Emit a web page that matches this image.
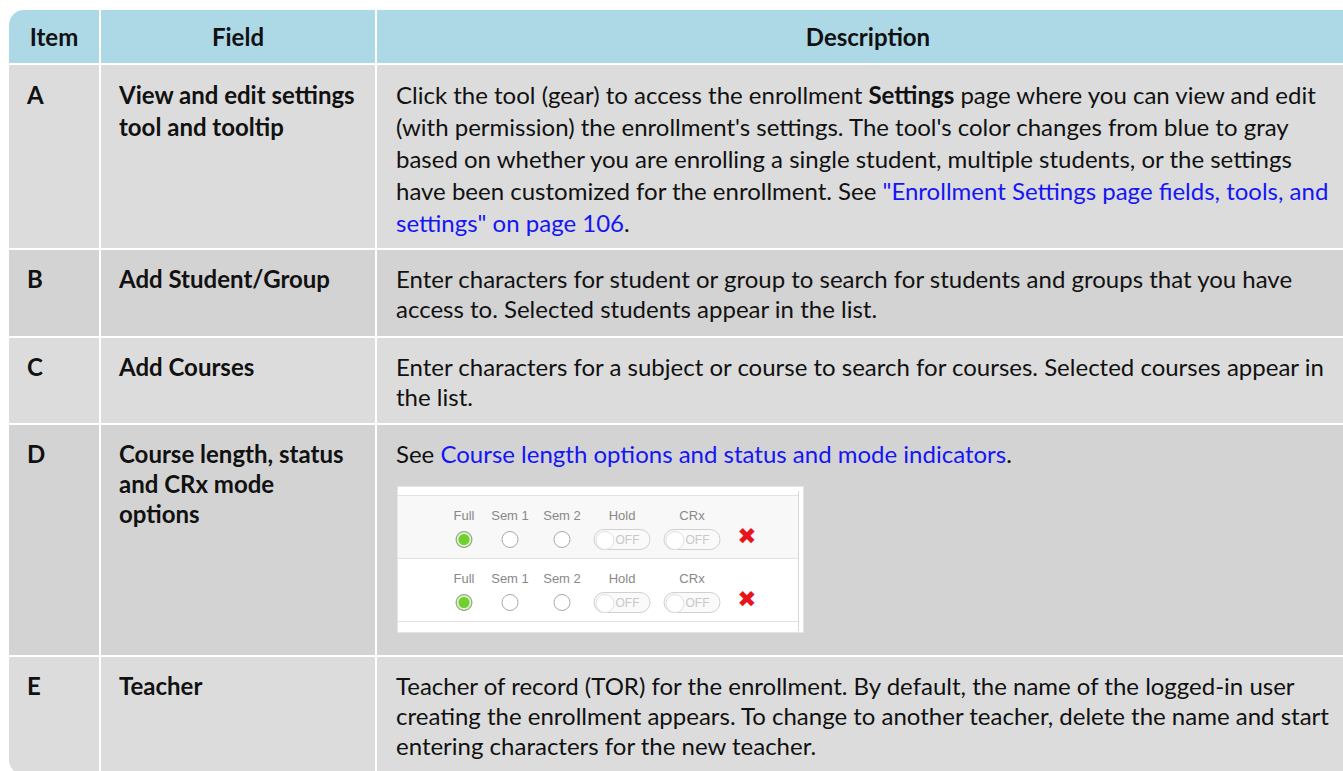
<!DOCTYPE html>
<html>
<head>
<meta charset="utf-8">
<script src="https://cdn.jsdelivr.net/npm/chart.js@4"></script>
<style>
html,body{margin:0;padding:0;background:#fff;overflow:hidden;}
body{width:1343px;height:771px;position:relative;font-family:Lato,"Open Sans",sans-serif;color:#111;}
#tbl{position:absolute;left:9px;top:10px;width:1350px;display:grid;
  grid-template-columns:90px 274px 982px;grid-template-rows:53px 183px 86px 85px 230px 118px;
  column-gap:2px;row-gap:2px;background:#fff;border-radius:15px;overflow:hidden;}
.c{box-sizing:border-box;padding:14px 18px 0 18px;font-size:24px;line-height:30px;white-space:nowrap;}
.h{background:#ADD8E6;font-weight:bold;text-align:center;padding:0;line-height:53px;}
.l{background:#DCDCDC;} .d{background:#D3D3D3;}
.b{font-weight:bold;}
.desc{padding-left:19px;}
.tall{line-height:32px;}
a{color:#1515f5;text-decoration:none;}
#mini{position:absolute;left:398px;top:487px;width:405px;height:145px;background:#fff;
  box-shadow:0 0 0 1px #e4e4e4;}
#mini .row{position:absolute;left:0;width:400px;height:62px;border-top:1px solid #e2e2e2;}
#mini .vr{position:absolute;left:400px;top:4px;width:1px;height:140px;background:#d8d8d8;}
.lab{position:absolute;font-family:Arial,"Liberation Sans",sans-serif;font-size:13px;color:#888;transform:translateX(-50%);top:12px;white-space:nowrap;}
.rad{position:absolute;width:15px;height:15px;border-radius:50%;border:1px solid #a8a8a8;background:#fff;transform:translateX(-50%);top:35px;}
.rad.on{background:#6fcf2f;border-color:#9a9a9a;box-shadow:inset 0 0 0 2px #d9f2c8;}
.tog{position:absolute;width:57px;height:21px;border-radius:11px;border:1px solid #d0d0d0;background:#fafafa;transform:translateX(-50%);top:33px;
  font-family:Arial,"Liberation Sans",sans-serif;font-size:12px;color:#c8c8c8;line-height:20px;text-align:right;box-sizing:border-box;padding-right:10px;}
.tog:before{content:"";position:absolute;left:1px;top:1px;width:17px;height:17px;border-radius:50%;border:1px solid #e0e0e0;background:#fff;}
.x{position:absolute;color:#e8141c;font-size:23px;font-weight:bold;transform:translateX(-50%);top:27px;font-family:"DejaVu Sans",sans-serif;}
</style>
</head>
<body>
<div id="tbl"></div>
<div id="mini"></div>
<script>
// ---- data ----
const columns = ["Item", "Field", "Description"];
const items = ["A", "B", "C", "D", "E"];
const fields = [
  ["View and edit settings", "tool and tooltip"],
  ["Add Student/Group"],
  ["Add Courses"],
  ["Course length, status", "and CRx mode", "options"],
  ["Teacher"]
];
// each line: list of [text, kind] where kind: "" normal, "b" bold, "a" link
const descriptions = [
  [
    [["Click the tool (gear) to access the enrollment ", ""], ["Settings", "b"], [" page where you can view and edit", ""]],
    [["(with permission) the enrollment's settings. The tool's color changes from blue to gray", ""]],
    [["based on whether you are enrolling a single student, multiple students, or the settings", ""]],
    [["have been customized for the enrollment. See ", ""], ["\"Enrollment Settings page fields, tools, and", "a"]],
    [["settings\" on page 106", "a"], [".", ""]]
  ],
  [
    [["Enter characters for student or group to search for students and groups that you have", ""]],
    [["access to. Selected students appear in the list.", ""]]
  ],
  [
    [["Enter characters for a subject or course to search for courses. Selected courses appear in", ""]],
    [["the list.", ""]]
  ],
  [
    [["See ", ""], ["Course length options and status and mode indicators", "a"], [".", ""]]
  ],
  [
    [["Teacher of record (TOR) for the enrollment. By default, the name of the logged-in user", ""]],
    [["creating the enrollment appears. To change to another teacher, delete the name and start", ""]],
    [["entering characters for the new teacher.", ""]]
  ]
];
const miniOptions = ["Full", "Sem 1", "Sem 2", "Hold", "CRx"];
const miniKinds = ["radio", "radio", "radio", "toggle", "toggle"];
const miniRows = [{ selected: "Full" }, { selected: "Full" }];

// ---- build table ----
const tbl = document.getElementById("tbl");
function el(tag, cls, html) { const e = document.createElement(tag); if (cls) e.className = cls; if (html != null) e.innerHTML = html; return e; }
function esc(s) { return s.replace(/&/g, "&amp;").replace(/</g, "&lt;"); }
columns.forEach(c => tbl.appendChild(el("div", "c h", esc(c))));
items.forEach((it, i) => {
  const shade = i % 2 === 0 ? "l" : "d";
  const tall = i === 0 ? " tall" : "";
  tbl.appendChild(el("div", "c b " + shade + tall, esc(it)));
  tbl.appendChild(el("div", "c b " + shade + tall, fields[i].map(esc).join("<br>")));
  const html = descriptions[i].map(line => line.map(([t, k]) =>
    k === "b" ? "<b>" + esc(t) + "</b>" : k === "a" ? "<a>" + esc(t) + "</a>" : esc(t)).join("")).join("<br>");
  tbl.appendChild(el("div", "c desc " + shade + tall, html));
});

// ---- mini screenshot (row D) ----
const mini = document.getElementById("mini");
const xs = [66, 112, 164, 224, 294];
const xX = 349;
miniRows.forEach((r, ri) => {
  const row = el("div", "row");
  row.style.top = (8 + ri * 63) + "px";
  row.style.background = ri === 0 ? "#f8f8f8" : "#fff";
  miniOptions.forEach((o, oi) => {
    const lab = el("div", "lab", esc(o)); lab.style.left = xs[oi] + "px"; row.appendChild(lab);
    let ctl;
    if (miniKinds[oi] === "radio") { ctl = el("div", "rad" + (r.selected === o ? " on" : "")); }
    else { ctl = el("div", "tog", "OFF"); }
    ctl.style.left = xs[oi] + "px"; row.appendChild(ctl);
  });
  const x = el("div", "x", "\u2716"); x.style.left = xX + "px"; row.appendChild(x);
  mini.appendChild(row);
});
const last = el("div", "row"); last.style.top = (8 + 2 * 63) + "px"; last.style.height = "10px"; mini.appendChild(last);
mini.appendChild(el("div", "vr"));
</script>
</body>
</html>
